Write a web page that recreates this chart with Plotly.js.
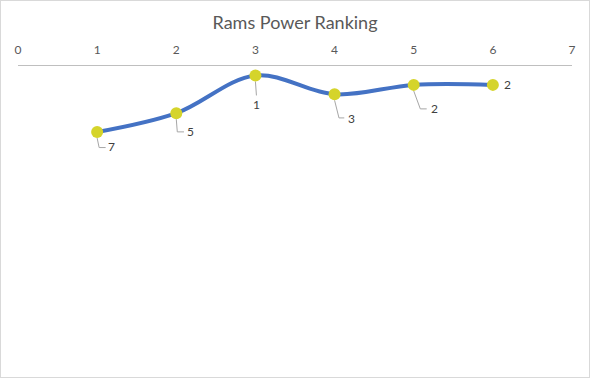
<!DOCTYPE html>
<html>
<head>
<meta charset="utf-8">
<script src="https://cdn.plot.ly/plotly-3.0.1.min.js"></script>
<style>
html,body{margin:0;padding:0;background:#fff;}
#chart{width:588px;height:376px;border:1px solid #d9d9d9;}
</style>
</head>
<body>
<div id="chart"></div>
<script>
// Data
const weeks = [1, 2, 3, 4, 5, 6];
const ranks = [7, 5, 1, 3, 2, 2];
const xTicks = [0, 1, 2, 3, 4, 5, 6, 7];
const titleText = "Rams Power Ranking";

// label placement styles (pixel offsets: right, down) and leader elbows
const labelDx = [14.6, 14, 1, 17.4, 20.6, 14.4];
const labelDy = [14.3, 18.7, 28.7, 24.6, 24, 0];
const leaderPaths = [
  "M0,-6 L2,-15.5 L8.5,-15.5",
  "M0,-6 L1,-18.7 L7.7,-18.7",
  "M0,-6 L1,-20",
  "M0,-6 L4.4,-23.6 L9.7,-23.6",
  "M0,-6 L6.6,-24 L13,-24",
  null
];

const font = "Lato, 'Open Sans', sans-serif";

const trace = {
  x: weeks, y: ranks, type: "scatter", mode: "lines+markers",
  line: {shape: "spline", smoothing: 1, color: "#4472c4", width: 4},
  marker: {size: 12, color: "#d5d42b"},
  hoverinfo: "none", cliponaxis: false
};

const annotations = weeks.map((w, i) => ({
  x: w, y: ranks[i], xref: "x", yref: "y", text: String(ranks[i]),
  showarrow: false, xshift: labelDx[i], yshift: -labelDy[i],
  font: {family: font, size: 12, color: "#404040"}
}));

const shapes = [];
weeks.forEach((w, i) => {
  if (!leaderPaths[i]) return;
  shapes.push({
    type: "path", xref: "x", yref: "y", xsizemode: "pixel", ysizemode: "pixel",
    xanchor: w, yanchor: ranks[i], path: leaderPaths[i],
    line: {color: "#a6a6a6", width: 1}, layer: "below"
  });
});

const layout = {
  width: 588, height: 376,
  margin: {l: 17, r: 17, t: 65, b: 9},
  paper_bgcolor: "#ffffff", plot_bgcolor: "#ffffff",
  showlegend: false,
  title: {text: titleText, x: 0.5, xanchor: "center", xref: "paper",
          y: 1 - 22/376, yanchor: "middle", yref: "container",
          font: {family: font, size: 18, color: "#595959"}},
  xaxis: {range: [0, 7], side: "top", tickvals: xTicks, ticktext: xTicks.map(String),
          showgrid: false, zeroline: false, showline: true, linecolor: "#bfbfbf", linewidth: 1,
          ticks: "outside", ticklen: 1, tickcolor: "rgba(0,0,0,0)", ticklabelstandoff: 5,
          tickfont: {family: font, size: 12, color: "#595959"},
          fixedrange: true},
  yaxis: {range: [32, 0], visible: false, showgrid: false, zeroline: false, fixedrange: true},
  annotations: annotations,
  shapes: shapes
};

Plotly.newPlot("chart", [trace], layout, {displayModeBar: false, staticPlot: true});
</script>
</body>
</html>
